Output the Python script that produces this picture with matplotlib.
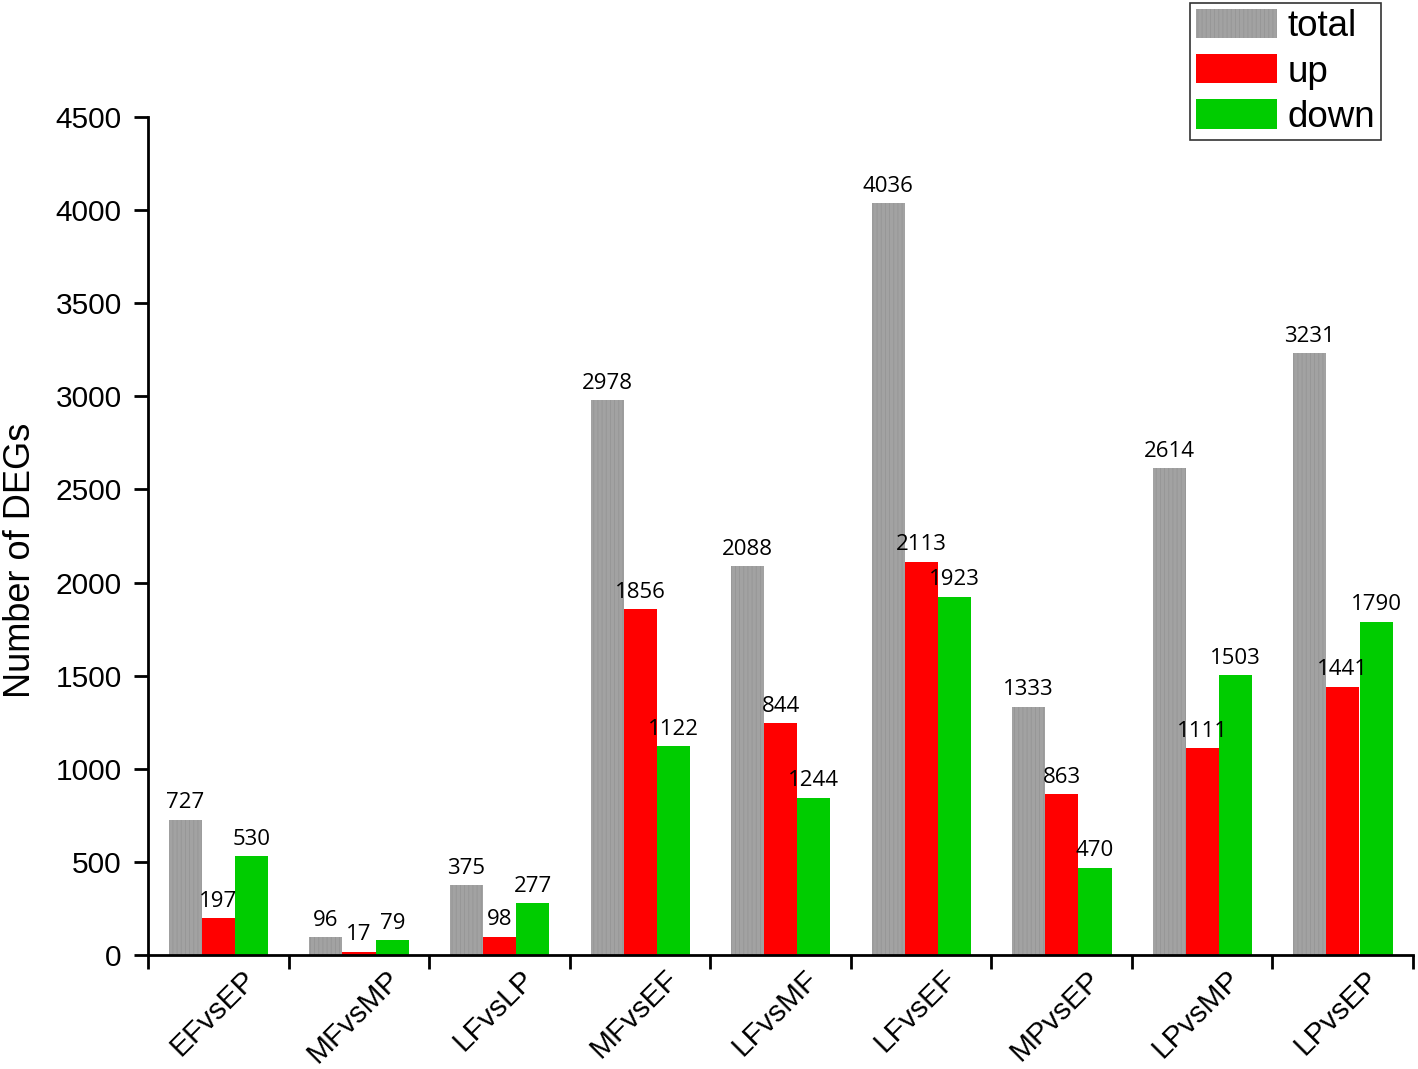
import matplotlib
matplotlib.use("Agg")
import matplotlib.pyplot as plt
import numpy as np

categories = ["EFvsEP", "MFvsMP", "LFvsLP", "MFvsEF", "LFvsMF", "LFvsEF", "MPvsEP", "LPvsMP", "LPvsEP"]
total = [727, 96, 375, 2978, 2088, 4036, 1333, 2614, 3231]
up = [197, 17, 98, 1856, 1244, 2113, 863, 1111, 1441]
down = [530, 79, 277, 1122, 844, 1923, 470, 1503, 1790]
# printed labels as they appear in the source figure
total_labels = ["727", "96", "375", "2978", "2088", "4036", "1333", "2614", "3231"]
up_labels = ["197", "17", "98", "1856", "844", "2113", "863", "1111", "1441"]
down_labels = ["530", "79", "277", "1122", "1244", "1923", "470", "1503", "1790"]
yticks = [0, 500, 1000, 1500, 2000, 2500, 3000, 3500, 4000, 4500]

plt.rcParams['font.family'] = ['Liberation Sans', 'DejaVu Sans']
plt.rcParams['hatch.linewidth'] = 0.6

fig = plt.figure(figsize=(14.18, 10.69), dpi=100)
ax = fig.add_axes([0.1044, 0.1066, 0.892, 0.784])

x = np.arange(len(categories))
w = 0.235
series = [(total, total_labels, '#a2a2a2', 'total', 0.266),
          (up, up_labels, '#ff0000', 'up', 0.501),
          (down, down_labels, '#00cc00', 'down', 0.738)]
handles = []
for vals, labs, col, name, off in series:
    if name == 'total':
        b = ax.bar(x + off, vals, width=w, color=col, label=name,
                   edgecolor='#959595', linewidth=0, hatch='||||')
    else:
        b = ax.bar(x + off, vals, width=w, color=col, label=name, edgecolor='none')
    handles.append(b)
    for xi, v, t in zip(x + off, vals, labs):
        ax.text(xi, v + 35, t, ha='center', va='bottom', fontsize=16,
                family=['Open Sans', 'DejaVu Sans'])

ax.set_xlim(0, 9)
ax.set_ylim(0, 4500)
ax.set_yticks(yticks)
ax.set_yticklabels([str(t) for t in yticks], fontsize=21.5)
ax.set_xticks(np.arange(0, 10))
ax.set_xticklabels([])
ax.set_xticks(x + 0.5 - 0.04, minor=True)
ax.set_xticklabels(categories, minor=True, rotation=45, ha='center', va='top',
                   fontsize=21.5)
ax.tick_params(axis='x', which='minor', length=0, pad=7)
ax.tick_params(axis='x', which='major', length=10, width=2, direction='out')
ax.tick_params(axis='y', length=10, width=2, direction='out', pad=9)
for s in ['top', 'right']:
    ax.spines[s].set_visible(False)
for s in ['left', 'bottom']:
    ax.spines[s].set_linewidth(2)
ax.set_ylabel("Number of DEGs", fontsize=26)
ax.yaxis.set_label_coords(-0.087, 0.471)

leg = fig.legend(handles=handles, labels=['total', 'up', 'down'],
                 loc='upper right', bbox_to_anchor=(0.974, 0.997),
                 fontsize=26.5, frameon=True, fancybox=False, edgecolor='black',
                 handlelength=2.2, handleheight=0.85, handletextpad=0.3,
                 labelspacing=0.27, borderpad=0.15, borderaxespad=0)
leg.get_frame().set_linewidth(1.2)

fig.savefig("out.png", dpi=100)
